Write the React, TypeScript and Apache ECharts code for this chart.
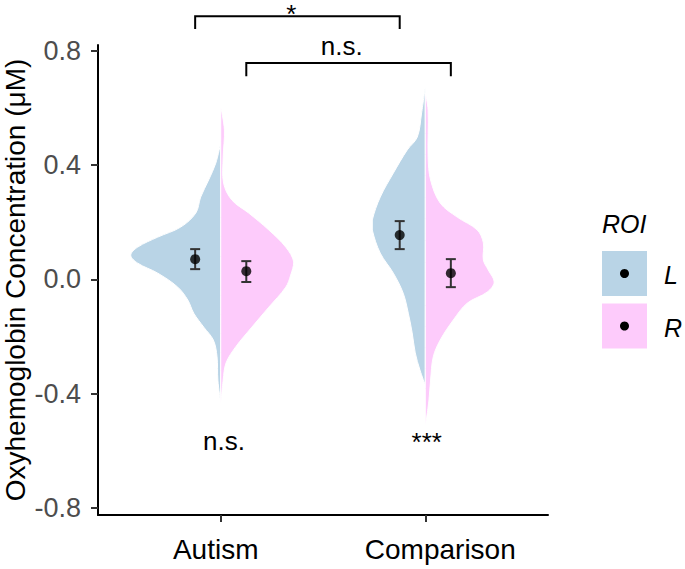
import React, { useEffect, useRef } from 'react';
import * as echarts from 'echarts';

const FONT = '"Liberation Sans", Arial, Helvetica, sans-serif';

const categories = ['Autism', 'Comparison'];
const roiNames = ['L', 'R'];
const roiColors = ['#b9d4e6', '#fdcbfb'];
const yTickValues = [-0.8, -0.4, 0, 0.4, 0.8];
const dodge = 0.125;

// half-violin outlines: [y value, half width in category units], top to bottom
const violinAutismL = [
  [0.477, 0], [0.407, 0.024], [0.348, 0.059], [0.288, 0.098], [0.232, 0.122], [0.183, 0.196],
  [0.148, 0.308], [0.113, 0.406], [0.085, 0.44], [0.057, 0.406], [0.022, 0.308], [-0.027, 0.21],
  [-0.072, 0.161], [-0.118, 0.132], [-0.167, 0.083], [-0.212, 0.036], [-0.271, 0.018],
  [-0.352, 0.014], [-0.432, 0],
];
const violinAutismR = [
  [0.603, 0], [0.523, 0.018], [0.428, 0.012], [0.337, 0.014], [0.278, 0.054], [0.232, 0.137],
  [0.173, 0.235], [0.113, 0.318], [0.061, 0.357], [0.015, 0.342], [-0.027, 0.318], [-0.097, 0.235],
  [-0.167, 0.152], [-0.236, 0.073], [-0.292, 0.026], [-0.352, 0.012], [-0.439, 0],
];
const violinComparisonL = [
  [0.673, 0], [0.582, 0.018], [0.498, 0.039], [0.453, 0.088], [0.372, 0.156], [0.288, 0.22],
  [0.208, 0.259], [0.173, 0.259], [0.092, 0.22], [0.022, 0.156], [-0.048, 0.108], [-0.118, 0.083],
  [-0.187, 0.064], [-0.257, 0.049], [-0.317, 0.026], [-0.369, 0],
];
const violinComparisonR = [
  [0.652, 0], [0.592, 0.014], [0.428, 0.014], [0.348, 0.026], [0.267, 0.073], [0.218, 0.156],
  [0.173, 0.254], [0.128, 0.284], [0.068, 0.284], [0.033, 0.308], [-0.009, 0.337], [-0.044, 0.303],
  [-0.083, 0.205], [-0.142, 0.137], [-0.212, 0.073], [-0.271, 0.039], [-0.352, 0.026],
  [-0.422, 0.018], [-0.516, 0],
];

// means and error bars per category (Autism, Comparison)
const meanL = [0.071, 0.155];
const lowL = [0.036, 0.106];
const highL = [0.106, 0.204];
const meanR = [0.029, 0.022];
const lowR = [-0.009, -0.027];
const highR = [0.064, 0.071];

// significance brackets between groups
const bracketFrom = [0.875, 1.125];
const bracketTo = [1.875, 2.125];
const bracketLineY = [0.921, 0.757];
const bracketTipY = [0.876, 0.711];
const bracketLabels = ['*', 'n.s.'];
const bracketLabelX = [1.345, 1.592];
const bracketLabelY = [0.93, 0.818];

// within-group test labels
const groupTestLabels = ['n.s.', '***'];
const groupTestX = [1.016, 2.007];
const groupTestY = [-0.566, -0.57];

function violinSeries(points: number[][], center: number, side: number, color: string) {
  const data = points.map(([y, w]) => [center + side * w, y]);
  return {
    type: 'custom',
    coordinateSystem: 'cartesian2d',
    data,
    z: 2,
    silent: true,
    renderItem: (params: any, api: any) => {
      if (params.dataIndex !== 0) return null;
      const pts = data.map((d) => api.coord(d));
      let minX = Infinity, minY = Infinity, maxX = -Infinity, maxY = -Infinity;
      pts.forEach((p: number[]) => {
        minX = Math.min(minX, p[0]);
        maxX = Math.max(maxX, p[0]);
        minY = Math.min(minY, p[1]);
        maxY = Math.max(maxY, p[1]);
      });
      return {
        type: 'polygon',
        shape: { points: pts, smooth: 0.35, smoothConstraint: [[minX, minY], [maxX, maxY]] },
        style: { fill: color, stroke: '#ffffff', lineWidth: 1 },
      };
    },
  };
}

export default function App() {
  const ref = useRef<HTMLDivElement>(null);
  useEffect(() => {
    if (!ref.current) return;
    const chart = echarts.init(ref.current, null, { renderer: 'svg' });

    const meanData: number[][] = [];
    const errData: number[][] = [];
    categories.forEach((_, i) => {
      meanData.push([i + 1 - dodge, meanL[i]]);
      meanData.push([i + 1 + dodge, meanR[i]]);
      errData.push([i + 1 - dodge, lowL[i], highL[i]]);
      errData.push([i + 1 + dodge, lowR[i], highR[i]]);
    });

    const bracketData = bracketFrom.map((f, i) => [f, bracketTo[i], bracketLineY[i], bracketTipY[i]]);
    const bracketTextData = bracketLabels.map((_, i) => [bracketLabelX[i], bracketLabelY[i], i]);
    const groupTextData = groupTestLabels.map((_, i) => [groupTestX[i], groupTestY[i], i]);

    const option: any = {
      animation: false,
      backgroundColor: '#ffffff',
      textStyle: { fontFamily: FONT },
      grid: { left: 98, right: 137, top: 45, bottom: 54, containLabel: false, outerBoundsMode: 'none' },
      xAxis: {
        type: 'value',
        min: 0.4,
        max: 2.6,
        splitLine: { show: false },
        axisLine: { show: true, onZero: false, lineStyle: { color: '#000', width: 2 } },
        axisTick: { show: true, customValues: [1, 2], length: 7, lineStyle: { color: '#333', width: 2 } },
        axisLabel: {
          customValues: [1, 2],
          formatter: (v: number) => {
            const i = Math.round(v) - 1;
            return i === 0 ? '{a|' + categories[0] + '}' : '{b|' + categories[1] + '}';
          },
          fontSize: 28,
          color: '#000',
          margin: 20,
          fontFamily: FONT,
          rich: {
            a: { fontSize: 28, fontFamily: FONT, color: '#000', padding: [0, 10, 0, 0] },
            b: { fontSize: 28, fontFamily: FONT, color: '#000', padding: [0, 0, 0, 30] },
          },
        },
      },
      yAxis: {
        type: 'value',
        min: -0.824,
        max: 0.82,
        splitLine: { show: false },
        axisLine: { show: true, onZero: false, lineStyle: { color: '#000', width: 2 } },
        axisTick: { show: true, customValues: yTickValues, length: 7, lineStyle: { color: '#333', width: 2 } },
        axisLabel: {
          customValues: yTickValues,
          formatter: (v: number) => v.toFixed(1),
          fontSize: 27,
          color: '#4d4d4d',
          margin: 17,
          fontFamily: FONT,
        },
      },
      graphic: [
        {
          type: 'text',
          x: 15,
          y: 280,
          rotation: Math.PI / 2,
          style: {
            text: 'Oxyhemoglobin Concentration (μM)',
            fontSize: 28,
            fontFamily: FONT,
            fill: '#000',
            align: 'center',
            verticalAlign: 'middle',
          },
        },
        {
          type: 'text',
          x: 602,
          y: 224,
          style: { text: 'ROI', fontSize: 25, fontStyle: 'italic', fontFamily: FONT, fill: '#000', align: 'left', verticalAlign: 'middle' },
        },
        ...roiNames.flatMap((name, i) => [
          { type: 'rect', shape: { x: 602, y: 251 + i * 52.5, width: 45, height: 45 }, style: { fill: roiColors[i] } },
          { type: 'circle', shape: { cx: 624.5, cy: 273.5 + i * 52.5, r: 4.5 }, style: { fill: '#000' } },
          {
            type: 'text',
            x: 664,
            y: 275 + i * 52.5,
            style: { text: name, fontSize: 25, fontStyle: 'italic', fontFamily: FONT, fill: '#000', align: 'left', verticalAlign: 'middle' },
          },
        ]),
      ],
      series: [
        violinSeries(violinAutismL, 1, -1, roiColors[0]),
        violinSeries(violinAutismR, 1, 1, roiColors[1]),
        violinSeries(violinComparisonL, 2, -1, roiColors[0]),
        violinSeries(violinComparisonR, 2, 1, roiColors[1]),
        {
          type: 'custom',
          coordinateSystem: 'cartesian2d',
          data: errData,
          z: 3,
          silent: true,
          renderItem: (params: any, api: any) => {
            const x = api.value(0);
            const lo = api.coord([x, api.value(1)]);
            const hi = api.coord([x, api.value(2)]);
            const cap = 5;
            const style = { stroke: '#333333', lineWidth: 2 };
            return {
              type: 'group',
              children: [
                { type: 'line', shape: { x1: lo[0], y1: lo[1], x2: hi[0], y2: hi[1] }, style },
                { type: 'line', shape: { x1: lo[0] - cap, y1: lo[1], x2: lo[0] + cap, y2: lo[1] }, style },
                { type: 'line', shape: { x1: hi[0] - cap, y1: hi[1], x2: hi[0] + cap, y2: hi[1] }, style },
              ],
            };
          },
        },
        {
          type: 'scatter',
          data: meanData,
          symbol: 'circle',
          symbolSize: 10,
          z: 4,
          silent: true,
          itemStyle: { color: '#000' },
        },
        {
          type: 'custom',
          coordinateSystem: 'cartesian2d',
          data: bracketData,
          clip: false,
          z: 5,
          silent: true,
          renderItem: (params: any, api: any) => {
            const a = api.coord([api.value(0), api.value(3)]);
            const b = api.coord([api.value(0), api.value(2)]);
            const c = api.coord([api.value(1), api.value(2)]);
            const d = api.coord([api.value(1), api.value(3)]);
            return {
              type: 'polyline',
              shape: { points: [a, b, c, d] },
              style: { stroke: '#000', lineWidth: 2, fill: 'none' },
            };
          },
        },
        {
          type: 'custom',
          coordinateSystem: 'cartesian2d',
          data: bracketTextData,
          clip: false,
          z: 5,
          silent: true,
          renderItem: (params: any, api: any) => {
            const p = api.coord([api.value(0), api.value(1)]);
            return {
              type: 'text',
              x: p[0],
              y: p[1],
              style: {
                text: bracketLabels[api.value(2)],
                fontSize: 26,
                fontFamily: FONT,
                fill: '#000',
                align: 'center',
                verticalAlign: 'middle',
              },
            };
          },
        },
        {
          type: 'custom',
          coordinateSystem: 'cartesian2d',
          data: groupTextData,
          clip: false,
          z: 5,
          silent: true,
          renderItem: (params: any, api: any) => {
            const p = api.coord([api.value(0), api.value(1)]);
            return {
              type: 'text',
              x: p[0],
              y: p[1],
              style: {
                text: groupTestLabels[api.value(2)],
                fontSize: 26,
                fontFamily: FONT,
                fill: '#000',
                align: 'center',
                verticalAlign: 'middle',
              },
            };
          },
        },
      ],
    };
    chart.setOption(option);
    return () => chart.dispose();
  }, []);

  return (
    <div
      ref={ref}
      style={{ position: 'fixed', left: 0, top: 0, width: 685, height: 569, background: '#fff' }}
    />
  );
}
